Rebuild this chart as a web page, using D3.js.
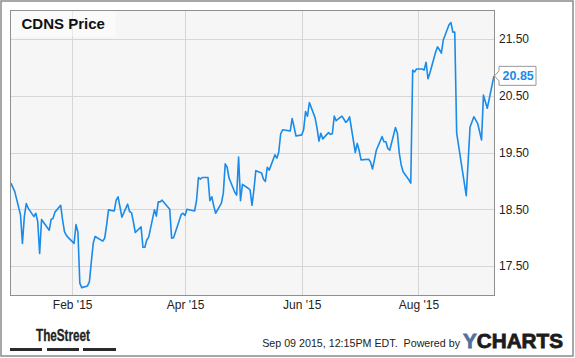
<!DOCTYPE html>
<html><head><meta charset="utf-8">
<script src="https://cdn.jsdelivr.net/npm/d3@7"></script>
<style>
body{margin:0;background:#fff;}
svg text{font-family:"Liberation Sans",Arial,sans-serif;}
</style>
</head><body>
<svg id="chart" width="575" height="358"></svg>
<script>
const title = "CDNS Price";
const dates = [
"2014-12-31","2015-01-02","2015-01-05","2015-01-06","2015-01-07","2015-01-08","2015-01-09",
"2015-01-12","2015-01-13","2015-01-14","2015-01-15","2015-01-16",
"2015-01-20","2015-01-21","2015-01-22","2015-01-23",
"2015-01-26","2015-01-27","2015-01-28","2015-01-29","2015-01-30",
"2015-02-02","2015-02-03","2015-02-04","2015-02-05","2015-02-06",
"2015-02-09","2015-02-10","2015-02-11","2015-02-12","2015-02-13",
"2015-02-17","2015-02-18","2015-02-19","2015-02-20",
"2015-02-23","2015-02-24","2015-02-25","2015-02-26","2015-02-27",
"2015-03-02","2015-03-03","2015-03-04","2015-03-05","2015-03-06",
"2015-03-09","2015-03-10","2015-03-11","2015-03-12","2015-03-13",
"2015-03-16","2015-03-17","2015-03-18","2015-03-19","2015-03-20",
"2015-03-23","2015-03-24","2015-03-25","2015-03-26","2015-03-27",
"2015-03-30","2015-03-31","2015-04-01","2015-04-02",
"2015-04-06","2015-04-07","2015-04-08","2015-04-09","2015-04-10",
"2015-04-13","2015-04-14","2015-04-15","2015-04-16","2015-04-17",
"2015-04-20","2015-04-21","2015-04-22","2015-04-23","2015-04-24",
"2015-04-27","2015-04-28","2015-04-29","2015-04-30","2015-05-01",
"2015-05-04","2015-05-05","2015-05-06","2015-05-07","2015-05-08",
"2015-05-11","2015-05-12","2015-05-13","2015-05-14","2015-05-15",
"2015-05-18","2015-05-19","2015-05-20","2015-05-21","2015-05-22",
"2015-05-26","2015-05-27","2015-05-28","2015-05-29",
"2015-06-01","2015-06-02","2015-06-03","2015-06-04","2015-06-05",
"2015-06-08","2015-06-09","2015-06-10","2015-06-11","2015-06-12",
"2015-06-15","2015-06-16","2015-06-17","2015-06-18","2015-06-19",
"2015-06-22","2015-06-23","2015-06-24","2015-06-25","2015-06-26",
"2015-06-29","2015-06-30","2015-07-01","2015-07-02",
"2015-07-06","2015-07-07","2015-07-08","2015-07-09","2015-07-10",
"2015-07-13","2015-07-14","2015-07-15","2015-07-16","2015-07-17",
"2015-07-20","2015-07-21","2015-07-22","2015-07-23","2015-07-24",
"2015-07-27","2015-07-28","2015-07-29","2015-07-30","2015-07-31",
"2015-08-03","2015-08-04","2015-08-05","2015-08-06","2015-08-07",
"2015-08-10","2015-08-11","2015-08-12","2015-08-13","2015-08-14",
"2015-08-17","2015-08-18","2015-08-19","2015-08-20","2015-08-21",
"2015-08-26","2015-08-28","2015-08-30",
"2015-09-01","2015-09-03","2015-09-04","2015-09-06","2015-09-09 12:15"
];
const prices = [
18.96,18.81,18.40,17.90,18.37,18.60,18.52,
18.37,18.43,18.28,17.72,18.32,
18.13,18.32,18.34,18.45,
18.57,18.31,18.10,18.04,18.00,
17.90,18.23,18.10,17.20,17.12,
17.15,17.22,17.57,17.90,18.02,
17.94,17.99,18.22,18.49,
18.47,18.66,18.72,18.54,18.36,
18.59,18.46,18.44,18.28,18.09,
18.19,17.83,17.83,17.96,18.01,
18.49,18.38,18.63,18.63,18.66,
18.54,18.50,17.99,18.00,18.10,
18.41,18.43,18.39,18.50,
18.47,18.65,19.06,19.03,19.06,
19.06,18.65,18.72,18.56,18.43,
18.61,18.78,19.30,19.24,19.05,
18.80,18.75,19.42,18.65,18.94,
18.87,18.84,18.57,18.84,19.18,
19.14,19.03,18.99,19.24,19.19,
19.46,19.40,19.51,19.83,19.90,
19.88,20.10,19.95,19.79,
19.81,19.90,20.22,20.14,20.38,
20.11,19.93,19.70,19.84,19.74,
19.85,19.82,19.83,20.14,20.06,
20.14,20.09,20.03,20.06,20.13,
19.50,19.66,19.54,19.37,
19.38,19.33,19.21,19.37,19.54,
19.78,19.69,19.69,19.57,19.54,
19.94,19.84,19.49,19.28,19.16,
19.02,18.96,20.95,20.92,20.97,
20.97,20.95,21.09,20.80,20.90,
21.27,21.36,21.31,21.25,21.48,
21.75,21.79,21.62,21.62,19.84,
18.74,19.95,20.13,
20.01,19.72,20.51,20.28,20.85
];
const yTicks = [17.5, 18.5, 19.5, 20.5, 21.5];
const xTicks = ["2015-02-01","2015-04-01","2015-06-01","2015-08-01"];
const footerText = "Sep 09 2015, 12:15PM EDT.  Powered by";

const parseDay = d3.timeParse("%Y-%m-%d");
const parseTime = d3.timeParse("%Y-%m-%d %H:%M");
const parse = s => parseTime(s) || parseDay(s);
const data = dates.map((d, i) => ({date: parse(d), price: prices[i]}));

const svg = d3.select("#chart");
const P = {l: 10, t: 10, r: 494, b: 295};
const lineColor = "#1a8be8";

svg.append("rect").attr("x", 0).attr("y", 0).attr("width", 575).attr("height", 358).attr("fill", "#fff");
svg.append("rect").attr("x", 1).attr("y", 1).attr("width", 572).attr("height", 355)
  .attr("fill", "none").attr("stroke", "#8a8a8a").attr("stroke-width", 1.5);

const x = d3.scaleTime()
  .domain([new Date(2014, 11, 30, 12), data[data.length - 1].date])
  .range([P.l, P.r]);
const y = d3.scaleLinear().domain([16.99, 22.01]).range([P.b, P.t]);

svg.append("rect").attr("x", P.l).attr("y", P.t).attr("width", P.r - P.l).attr("height", P.b - P.t)
  .attr("fill", "#f6f6f6");

// grid lines
const gx = svg.append("g").attr("transform", `translate(0,${P.b})`)
  .call(d3.axisBottom(x).tickValues(xTicks.map(parseDay)).tickSize(-(P.b - P.t)).tickFormat(""));
gx.select(".domain").remove();
gx.selectAll("line").attr("stroke", "#d6d6d6").attr("shape-rendering", "crispEdges");
const gy = svg.append("g").attr("transform", `translate(${P.l},0)`)
  .call(d3.axisLeft(y).tickValues(yTicks).tickSize(-(P.r - P.l)).tickFormat(""));
gy.select(".domain").remove();
gy.selectAll("line").attr("stroke", "#d6d6d6").attr("shape-rendering", "crispEdges");

// title box
svg.append("rect").attr("x", P.l + 0.5).attr("y", P.t + 0.5).attr("width", 105).attr("height", 26.5)
  .attr("fill", "#ffffff").attr("fill-opacity", 0.45);
svg.append("text").attr("x", 21.5).attr("y", 29).attr("font-size", 15).attr("font-weight", "bold")
  .attr("fill", "#111").text(title);

// line
svg.append("clipPath").attr("id", "clip").append("rect")
  .attr("x", P.l).attr("y", P.t).attr("width", P.r - P.l + 1).attr("height", P.b - P.t);
svg.append("path").datum(data).attr("clip-path", "url(#clip)")
  .attr("fill", "none").attr("stroke", lineColor).attr("stroke-width", 1.6)
  .attr("stroke-linejoin", "round")
  .attr("d", d3.line().x(d => x(d.date)).y(d => y(d.price)));

// plot border
svg.append("rect").attr("x", P.l + 0.5).attr("y", P.t + 0.5).attr("width", P.r - P.l).attr("height", P.b - P.t)
  .attr("fill", "none").attr("stroke", "#8f8f8f").attr("stroke-width", 1);

// y labels
const ay = svg.append("g").attr("transform", `translate(${P.r},0)`)
  .call(d3.axisRight(y).tickValues(yTicks).tickSize(0).tickPadding(5).tickFormat(d3.format(".2f")));
ay.select(".domain").remove();
ay.selectAll("text").attr("font-size", 12).attr("fill", "#222").style("font-family", '"Liberation Sans",Arial,sans-serif');

// x labels
const ax = svg.append("g").attr("transform", `translate(0,${P.b})`)
  .call(d3.axisBottom(x).tickValues(xTicks.map(parseDay)).tickSize(0).tickPadding(5.5).tickFormat(d3.timeFormat("%b '%y")));
ax.select(".domain").remove();
ax.selectAll("text").attr("font-size", 12).attr("fill", "#222").style("font-family", '"Liberation Sans",Arial,sans-serif');

// last value callout
const last = data[data.length - 1];
const ly = y(last.price);
const bx0 = P.r + 5, bx1 = P.r + 42, h = 9.5;
svg.append("path")
  .attr("d", `M${bx0},${ly - h} H${bx1} V${ly + h} H${bx0} V${ly + 5} L${P.r + 0.5},${ly} L${bx0},${ly - 5} Z`)
  .attr("fill", "#fff").attr("stroke", "#999").attr("stroke-width", 1);
svg.append("text").attr("x", bx0 + 3.5).attr("y", ly + 4.5).attr("font-size", 12.5).attr("font-weight", "bold")
  .attr("fill", lineColor).text(d3.format(".2f")(last.price));

// TheStreet logo
svg.append("text").attr("x", 36).attr("y", 341).attr("font-size", 16.5).attr("font-weight", "bold")
  .attr("fill", "#222").attr("stroke", "#222").attr("stroke-width", 0.3)
  .attr("textLength", 54).attr("lengthAdjust", "spacingAndGlyphs")
  .style("font-family", '"Liberation Sans Narrow","Liberation Sans",Arial,sans-serif')
  .text("TheStreet");
[[10, 42], [47, 79], [83, 116]].forEach(([a, b]) => {
  svg.append("rect").attr("x", a).attr("y", 348).attr("width", b - a).attr("height", 3).attr("fill", "#2a2a2a");
});

// footer
svg.append("text").attr("x", 460).attr("y", 347).attr("text-anchor", "end").attr("font-size", 10.7)
  .attr("fill", "#222").attr("xml:space", "preserve").text(footerText);
const yc = svg.append("text").attr("x", 463).attr("y", 348).attr("font-size", 20).attr("font-weight", "bold")
  .attr("stroke-width", 0.8)
  .attr("textLength", 100).attr("lengthAdjust", "spacingAndGlyphs");
yc.append("tspan").attr("fill", "#52709f").attr("stroke", "#52709f").text("Y");
yc.append("tspan").attr("fill", "#1c1c1c").attr("stroke", "#1c1c1c").text("CHARTS");
</script>
</body></html>
